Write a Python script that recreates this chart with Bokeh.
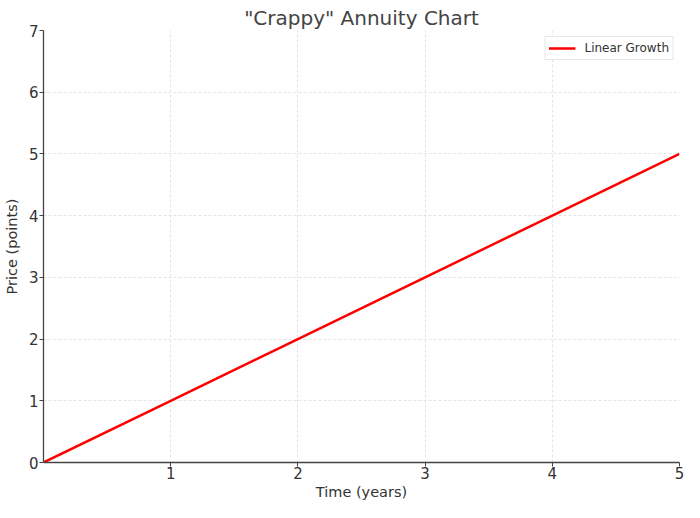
from bokeh.plotting import figure
from bokeh.models import FixedTicker, Range1d
from bokeh.embed import file_html
from bokeh.resources import INLINE

# Data
times = [0, 1, 2, 3, 4, 5]
prices = [0, 1, 2, 3, 4, 5]
x_ticks = [1, 2, 3, 4, 5]
y_ticks = [0, 1, 2, 3, 4, 5, 6, 7]

FONT = "DejaVu Sans"
TEXT = "#333333"

p = figure(title='"Crappy" Annuity Chart',
           x_axis_label="Time (years)", y_axis_label="Price (points)",
           x_range=Range1d(0, 5), y_range=Range1d(0, 7),
           width=684, height=502,
           min_border_left=42, min_border_right=5,
           min_border_top=30, min_border_bottom=38,
           output_backend="svg", toolbar_location=None)

p.line(times, prices, legend_label="Linear Growth",
       line_color="#ff0000", line_width=2.5)

# Title
p.title.align = "center"
p.title.text_font = FONT
p.title.text_font_size = "20px"
p.title.text_font_style = "normal"
p.title.text_color = "#444444"
p.title.offset = 0
p.title.standoff = 1

# Axes
p.xaxis.ticker = FixedTicker(ticks=x_ticks)
p.yaxis.ticker = FixedTicker(ticks=y_ticks)
for ax in (p.xaxis, p.yaxis):
    ax.axis_line_color = "#444444"
    ax.axis_line_width = 1.3
    ax.major_tick_line_color = "#444444"
    ax.major_tick_in = 0
    ax.major_tick_out = 4
    ax.minor_tick_line_color = None
    ax.major_label_text_font = FONT
    ax.major_label_text_font_size = "15px"
    ax.major_label_text_color = TEXT
    ax.axis_label_text_font = FONT
    ax.axis_label_text_font_size = "14.5px"
    ax.axis_label_text_font_style = "normal"
    ax.axis_label_text_color = TEXT
p.xaxis.major_label_standoff = 0
p.xaxis.axis_label_standoff = 2
p.yaxis.major_label_standoff = 1
p.yaxis.axis_label_standoff = 6

# Grid
p.grid.grid_line_color = "#dddddd"
p.grid.grid_line_dash = "3 2"
p.grid.grid_line_width = 0.8
p.outline_line_color = None

# Legend
p.legend.location = "top_right"
p.legend.label_text_font = FONT
p.legend.label_text_font_size = "12px"
p.legend.label_text_color = TEXT
p.legend.border_line_color = "#d0d0d0"
p.legend.margin = 6
p.legend.padding = 3
p.legend.spacing = 0
p.legend.glyph_width = 27
p.legend.glyph_height = 16
p.legend.label_standoff = 9

open("out.html", "w").write(file_html(p, INLINE))
